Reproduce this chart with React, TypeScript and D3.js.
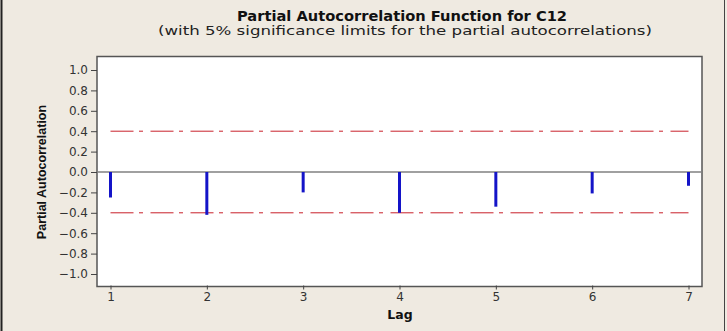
import React, { useEffect, useRef } from 'react';
import * as d3 from 'd3';

// lags and partial autocorrelations
const lags = [1, 2, 3, 4, 5, 6, 7];
const pacf = [-0.25, -0.42, -0.2, -0.4, -0.34, -0.21, -0.135];
const yTicks = [1.0, 0.8, 0.6, 0.4, 0.2, 0.0, -0.2, -0.4, -0.6, -0.8, -1.0];
const limit = 0.4;

const App = () => {
  const ref = useRef<SVGSVGElement>(null);

  useEffect(() => {
    const svg = d3.select(ref.current);
    svg.selectAll('*').remove();

    const W = 727;
    const H = 331;
    const box = { left: 97, right: 702, top: 56.5, bottom: 286.5 };
    const font = 'Tahoma, "DejaVu Sans", sans-serif';

    // background
    svg.append('rect').attr('width', W).attr('height', H).attr('fill', '#efeae1');
    svg.append('line').attr('x1', 1.5).attr('x2', 1.5).attr('y1', 0).attr('y2', H)
      .attr('stroke', '#222').attr('stroke-width', 2);
    svg.append('line').attr('x1', 724.5).attr('x2', 724.5).attr('y1', 0).attr('y2', H)
      .attr('stroke', '#444').attr('stroke-width', 1);

    const x = d3.scaleLinear().domain([1, 7]).range([110.5, 688.5]);
    const y = d3.scaleLinear().domain([-1, 1]).range([274, 70]);

    // plot area
    svg.append('rect')
      .attr('x', box.left).attr('y', box.top)
      .attr('width', box.right - box.left).attr('height', box.bottom - box.top)
      .attr('fill', '#fff').attr('stroke', '#555').attr('stroke-width', 1.5);

    // y axis
    const yAxis = d3.axisLeft(y).tickValues(yTicks).tickSize(6).tickPadding(3);
    const gy = svg.append('g').attr('transform', `translate(${box.left},0)`).call(yAxis);
    gy.select('.domain').remove();
    gy.selectAll('line').attr('stroke', '#444');
    gy.selectAll('text')
      .attr('fill', '#333')
      .style('font-family', font)
      .style('font-size', '12px')
      .text((d: any) => (d < 0 ? '\u2212' : '') + Math.abs(d).toFixed(1));

    // x axis
    const xAxis = d3.axisBottom(x).tickValues(lags).tickFormat(d3.format('d')).tickSize(4).tickPadding(3);
    const gx = svg.append('g').attr('transform', `translate(0,${box.bottom - 1})`).call(xAxis);
    gx.select('.domain').remove();
    gx.selectAll('line').attr('stroke', '#444');
    gx.selectAll('text')
      .attr('fill', '#333')
      .style('font-family', font)
      .style('font-size', '12px');

    // zero line
    svg.append('line')
      .attr('x1', box.left).attr('x2', box.right)
      .attr('y1', y(0)).attr('y2', y(0))
      .attr('stroke', '#808080').attr('stroke-width', 1.5);

    // significance limits
    [limit, -limit].forEach((v) => {
      svg.append('line')
        .attr('x1', x(1)).attr('x2', x(7))
        .attr('y1', y(v)).attr('y2', y(v))
        .attr('stroke', '#c8202a').attr('stroke-width', 1)
        .attr('stroke-dasharray', '23,5.5,4,7.5');
    });

    // spikes
    svg.append('g').selectAll('line')
      .data(lags)
      .join('line')
      .attr('x1', (d) => x(d)).attr('x2', (d) => x(d))
      .attr('y1', y(0)).attr('y2', (d, i) => y(pacf[i]))
      .attr('stroke', '#1414c8').attr('stroke-width', 3);

    // titles
    svg.append('text')
      .attr('x', 402).attr('y', 21)
      .attr('text-anchor', 'middle')
      .attr('textLength', 330).attr('lengthAdjust', 'spacingAndGlyphs')
      .style('font-family', font)
      .style('font-size', '14px').style('font-weight', 'bold').attr('fill', '#111')
      .text('Partial Autocorrelation Function for C12');
    svg.append('text')
      .attr('x', 405).attr('y', 35)
      .attr('text-anchor', 'middle')
      .attr('textLength', 494).attr('lengthAdjust', 'spacingAndGlyphs')
      .style('font-family', font)
      .style('font-size', '12.5px').attr('fill', '#222')
      .text('(with 5% significance limits for the partial autocorrelations)');

    svg.append('text')
      .attr('x', 400).attr('y', 319)
      .attr('text-anchor', 'middle')
      .style('font-family', font)
      .style('font-size', '12.5px').style('font-weight', 'bold').attr('fill', '#111')
      .text('Lag');

    svg.append('text')
      .attr('transform', `translate(46,172) rotate(-90)`)
      .attr('text-anchor', 'middle')
      .style('font-family', '"Liberation Sans Narrow", "Arial Narrow", sans-serif')
      .style('font-size', '12.5px').style('font-weight', 'bold').attr('fill', '#111')
      .text('Partial Autocorrelation');
  }, []);

  return <svg ref={ref} width={727} height={331} style={{ position: 'absolute', left: 0, top: 0 }}></svg>;
};

export default App;
